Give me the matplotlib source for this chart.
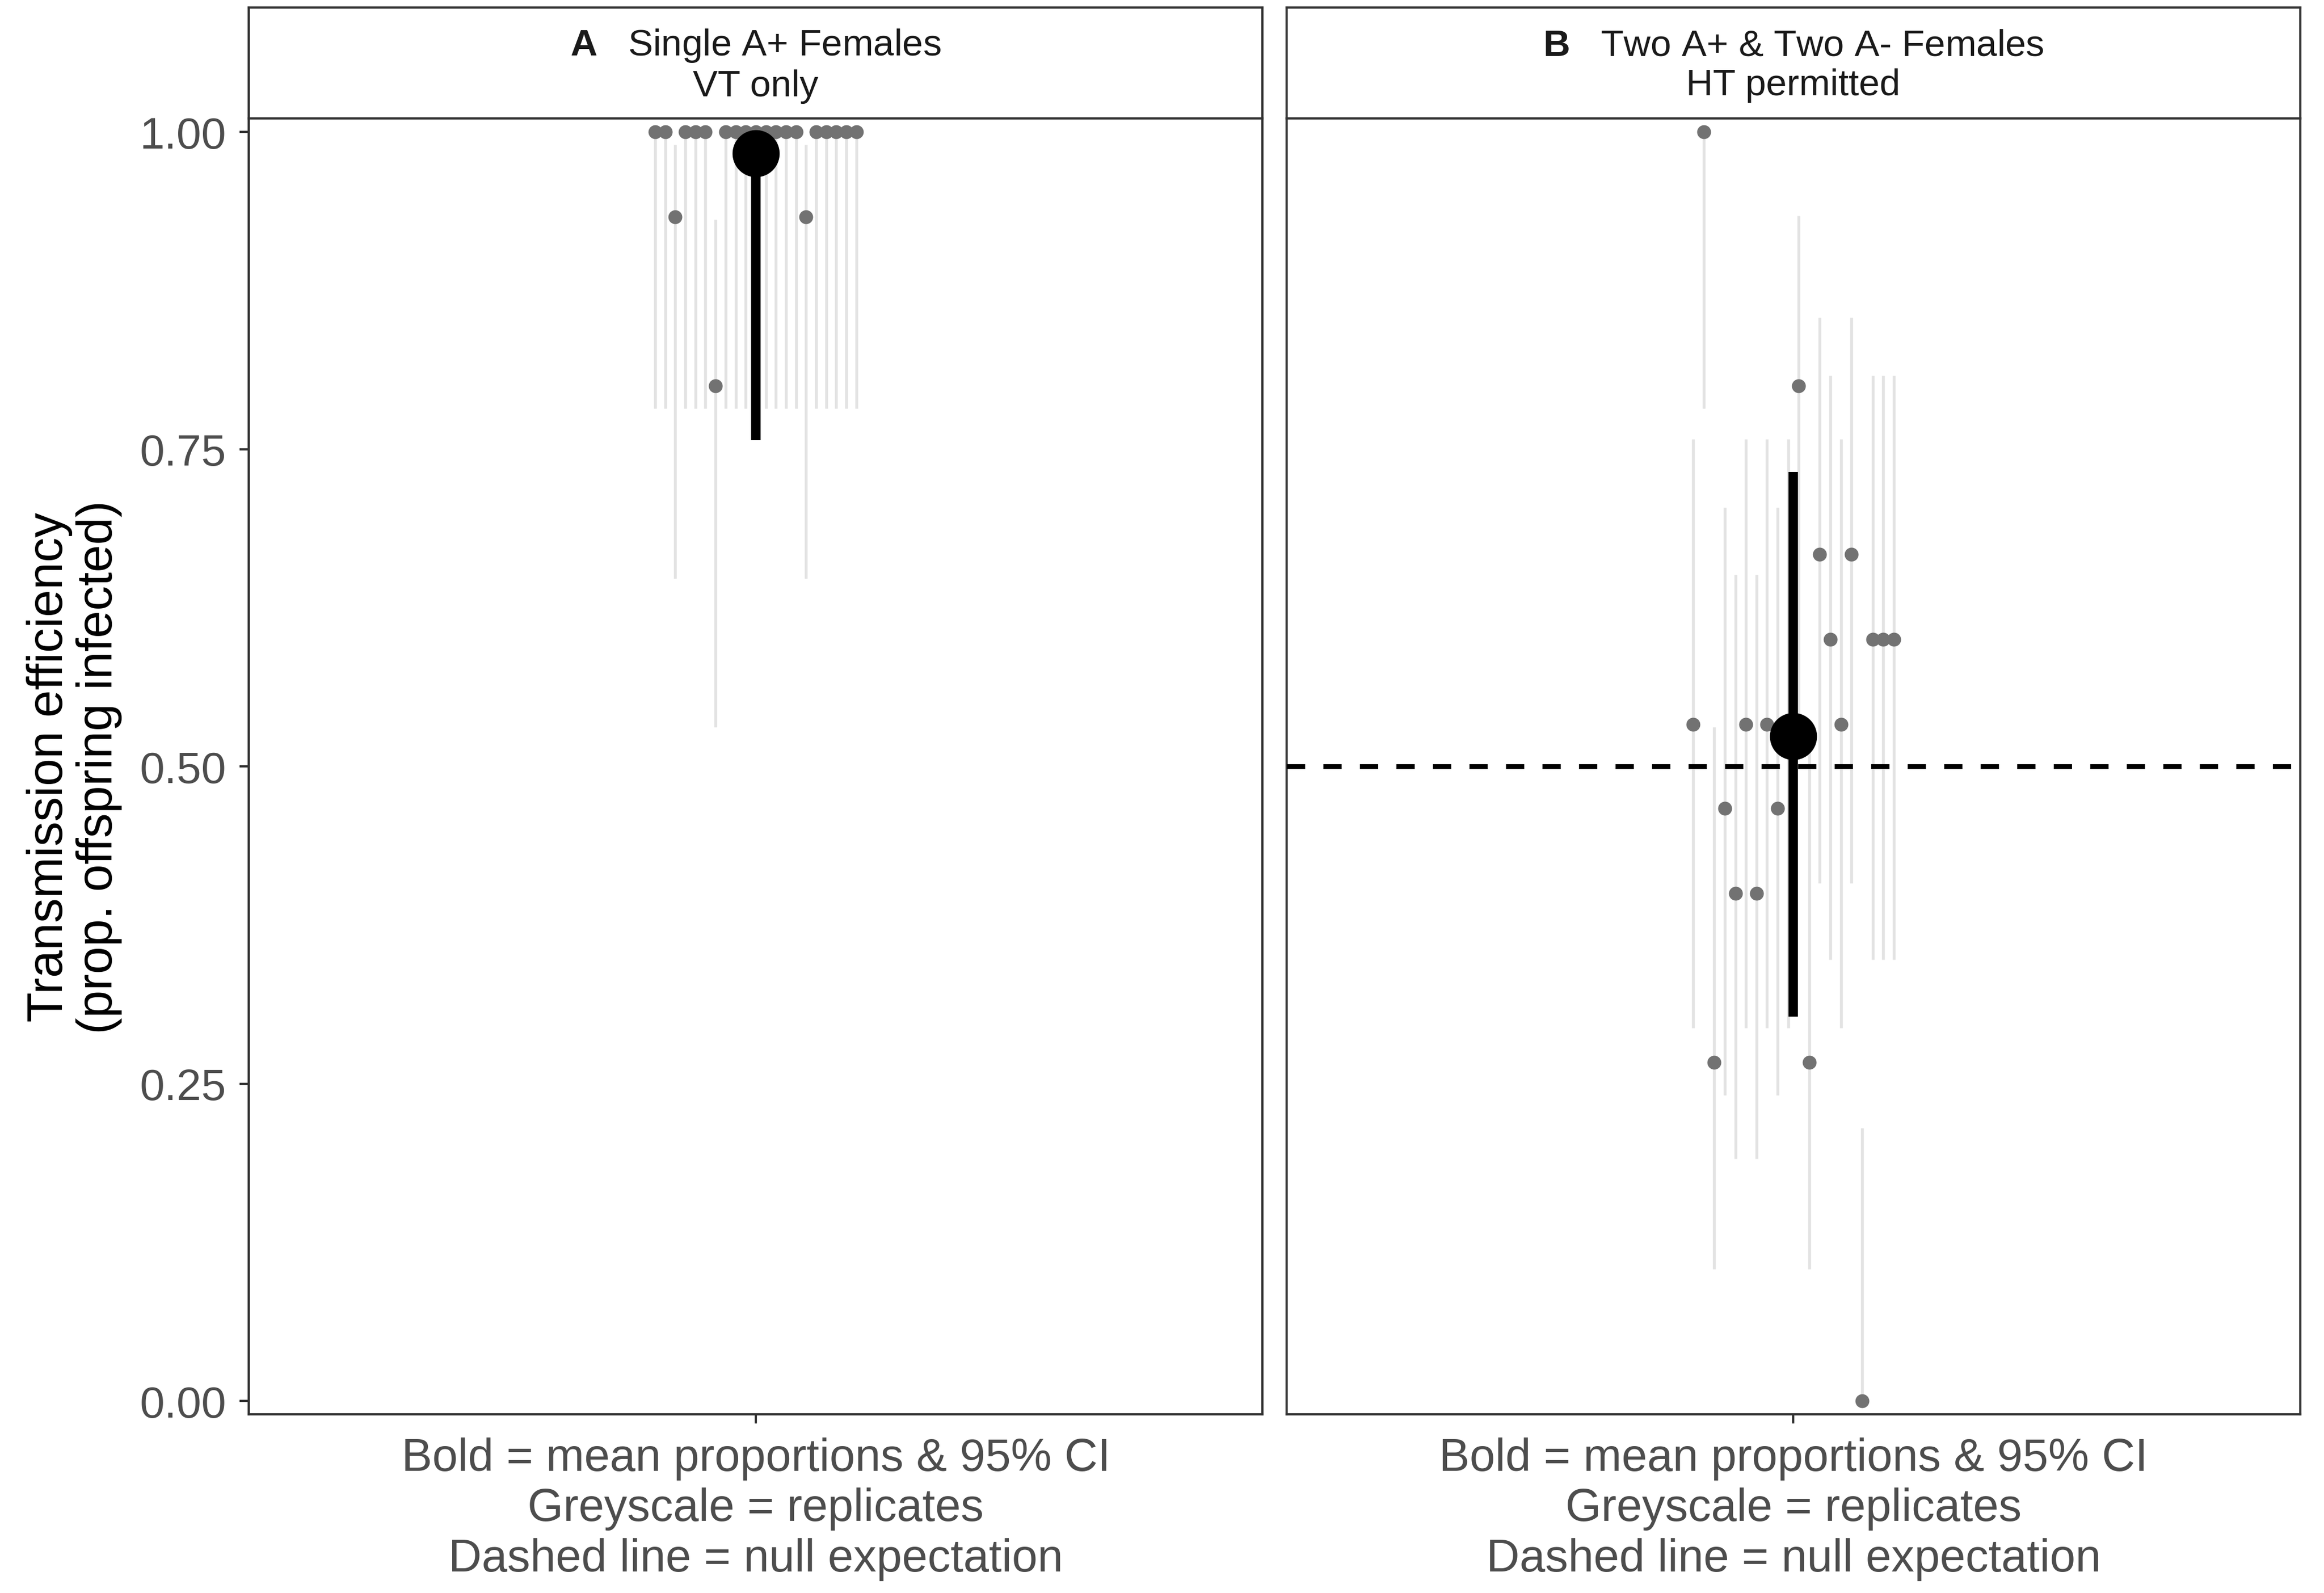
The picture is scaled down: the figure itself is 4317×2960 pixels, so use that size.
import numpy as np
import matplotlib
matplotlib.use("Agg")
import matplotlib.pyplot as plt

plt.rcParams['font.family'] = ['Liberation Sans', 'DejaVu Sans']
plt.rcParams['mathtext.fontset'] = 'custom'
plt.rcParams['mathtext.rm'] = 'Liberation Sans'
plt.rcParams['mathtext.bf'] = 'Liberation Sans:bold'

# panel A: single A+ females, replicates left to right
a_props = [1.0, 1.0, 0.933, 1.0, 1.0, 1.0, 0.8, 1.0, 1.0, 1.0, 1.0,
           1.0, 1.0, 1.0, 1.0, 0.933, 1.0, 1.0, 1.0, 1.0, 1.0]
a_lower = [0.782, 0.782, 0.648, 0.782, 0.782, 0.782, 0.531, 0.782, 0.782, 0.782, 0.782,
           0.782, 0.782, 0.782, 0.782, 0.648, 0.782, 0.782, 0.782, 0.782, 0.782]
a_upper = [1.0, 1.0, 0.99, 1.0, 1.0, 1.0, 0.931, 1.0, 1.0, 1.0, 1.0,
           1.0, 1.0, 1.0, 1.0, 0.99, 1.0, 1.0, 1.0, 1.0, 1.0]
a_mean = 0.983
a_ci = (0.757, 1.0)

# panel B: two A+ & two A- females
b_props = [0.533, 1.0, 0.267, 0.467, 0.4, 0.533, 0.4, 0.533, 0.467, 0.533,
           0.8, 0.267, 0.667, 0.6, 0.533, 0.667, 0.0, 0.6, 0.6, 0.6]
b_lower = [0.294, 0.782, 0.104, 0.241, 0.191, 0.294, 0.191, 0.294, 0.241, 0.294,
           0.53, 0.104, 0.408, 0.348, 0.294, 0.408, 0.0, 0.348, 0.348, 0.348]
b_upper = [0.758, 1.0, 0.531, 0.704, 0.651, 0.758, 0.651, 0.758, 0.704, 0.758,
           0.934, 0.531, 0.854, 0.808, 0.758, 0.854, 0.215, 0.808, 0.808, 0.808]
b_mean = 0.524
b_ci = (0.303, 0.732)
null_expect = 0.5

strip_bold = ['A', 'B']
strip_text = ['Single A+ Females\nVT only', 'Two A+ & Two A- Females\nHT permitted']
x_label = 'Bold = mean proportions & 95% CI\nGreyscale = replicates\nDashed line = null expectation'
y_ticks = [0.0, 0.25, 0.5, 0.75, 1.0]

fig = plt.figure(figsize=(4317 / 300, 2961 / 300), dpi=300)

border = '#333333'
bot, top, strip_top = 0.1121, 0.9252, 0.9951
lefts = [0.1071, 0.5536]
width = 0.4362

panels = [
    (a_props, a_lower, a_upper, a_mean, a_ci, False),
    (b_props, b_lower, b_upper, b_mean, b_ci, True),
]

for k, (props, lo, hi, m, ci, dashed) in enumerate(panels):
    ax = fig.add_axes([lefts[k], bot, width, top - bot])
    n = len(props)
    step = 0.25 / n
    xs = 1 + (np.arange(n) - (n - 1) / 2) * step

    ax.vlines(xs, lo, hi, color='#e3e3e3', lw=1.3, zorder=1)
    ax.plot(xs, props, 'o', color='#727272', ms=6.2, mec='none', zorder=2)
    if dashed:
        ax.axhline(null_expect, color='black', lw=2.2, ls=(0, (3.7, 3.7)), zorder=3)
    ax.vlines(1, ci[0], ci[1], color='black', lw=4.2, zorder=4)
    ax.plot(1, m, 'o', color='black', ms=20, zorder=5)

    ax.set_xlim(0.4, 1.6)
    ax.set_ylim(-0.0105, 1.0105)
    ax.set_xticks([1])
    ax.set_xticklabels([x_label], fontsize=20.5, color='#4d4d4d', linespacing=1.22)
    ax.set_yticks(y_ticks)
    if k == 0:
        ax.set_yticklabels(['%.2f' % v for v in y_ticks], fontsize=19.8, color='#4d4d4d')
        ax.tick_params(axis='y', length=4, width=1.0, color=border, pad=6)
    else:
        ax.tick_params(axis='y', left=False, labelleft=False)
    ax.tick_params(axis='x', length=4, width=1.0, color=border, pad=6)
    for s in ax.spines.values():
        s.set_color(border)
        s.set_linewidth(1.0)

    sx = fig.add_axes([lefts[k], top, width, strip_top - top])
    sx.set_xticks([])
    sx.set_yticks([])
    for s in sx.spines.values():
        s.set_color(border)
        s.set_linewidth(1.0)
    first, second = strip_text[k].split('\n')
    sx.text(0.5, 0.48, r'$\mathbf{%s}$   %s' % (strip_bold[k], first) + '\n' + second,
            ha='center', va='center', multialignment='center', fontsize=16.6,
            color='#1a1a1a', linespacing=1.2, transform=sx.transAxes)

fig.text(0.032, (bot + top) / 2, 'Transmission efficiency\n(prop. offspring infected)',
         rotation=90, ha='center', va='center', multialignment='center',
         fontsize=22, linespacing=1.08)

fig.savefig('out.png', dpi=300, facecolor='white')
